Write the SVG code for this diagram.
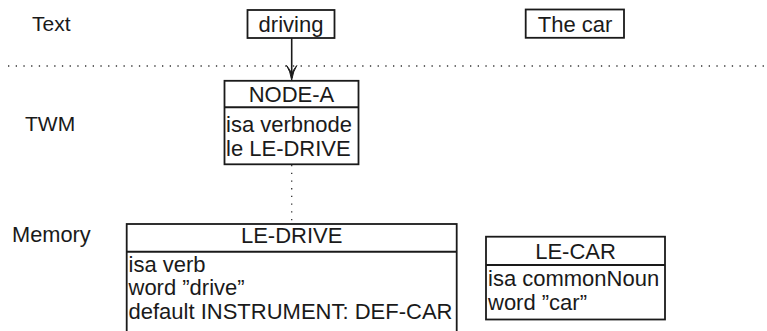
<svg xmlns="http://www.w3.org/2000/svg" width="767" height="331" viewBox="0 0 767 331">
  <style>
    text { font-family: "Liberation Sans", Arial, Helvetica, sans-serif; font-size: 22px; fill: #1a1a1a; }
    .lvl { font-size: 21px; }
    .c { text-anchor: middle; }
    .box { fill: #ffffff; stroke: #1a1a1a; stroke-width: 1.8; }
    .sep { stroke: #1a1a1a; stroke-width: 2; }
    .dots { stroke: #333333; stroke-width: 1.3; stroke-dasharray: 1.3 6.4; fill: none; }
    .link { stroke: #1a1a1a; stroke-width: 1.6; fill: none; }
  </style>

  <!-- level labels -->
  <g id="labels">
    <text class="lvl" x="32" y="31">Text</text>
    <text class="lvl" x="25" y="131">TWM</text>
    <text class="lvl" x="12" y="242" style="font-size:21.8px">Memory</text>
  </g>

  <!-- separator between text level and working memory -->
  <line class="dots" x1="8" y1="66" x2="767" y2="66"/>

  <!-- connectors -->
  <g id="connectors">
    <line class="link" x1="291.7" y1="38" x2="291.7" y2="78"/>
    <path d="M286.6,65.5 Q290.2,71 291.7,80 Q293.2,71 296.8,65.5 Q293.2,70 291.7,73.5 Q290.2,70 286.6,65.5 Z" fill="#1a1a1a" stroke="#1a1a1a" stroke-width="1"/>
    <line class="dots" x1="291.7" y1="165" x2="291.7" y2="224"/>
  </g>

  <g id="word-driving">
    <rect class="box" x="247.5" y="10" width="87" height="28"/>
    <text class="c" x="291" y="31.5">driving</text>
  </g>

  <g id="word-the-car">
    <rect class="box" x="525.7" y="9.5" width="98.3" height="28.3"/>
    <text class="c" x="575" y="31.5">The car</text>
  </g>

  <g id="node-a">
    <rect class="box" x="224.5" y="80.8" width="134" height="83.5"/>
    <line class="sep" x1="224.5" y1="107.3" x2="358.5" y2="107.3"/>
    <text class="c" x="291.5" y="101.5">NODE-A</text>
    <text x="226" y="132">isa verbnode</text>
    <text x="226" y="156">le LE-DRIVE</text>
  </g>

  <g id="le-drive">
    <rect class="box" x="126.7" y="224" width="330" height="115"/>
    <line class="sep" x1="126.7" y1="251.7" x2="456.7" y2="251.7"/>
    <text class="c" x="291.7" y="243.3">LE-DRIVE</text>
    <text x="128.5" y="271.7">isa verb</text>
    <text x="128.5" y="295">word ”drive”</text>
    <text x="128.5" y="318.5">default INSTRUMENT: DEF-CAR</text>
  </g>

  <g id="le-car">
    <rect class="box" x="486" y="236.7" width="179" height="82.8"/>
    <line class="sep" x1="486" y1="265" x2="665" y2="265"/>
    <text class="c" x="575.5" y="258.5">LE-CAR</text>
    <text x="488" y="286">isa commonNoun</text>
    <text x="488" y="310">word ”car”</text>
  </g>
</svg>
